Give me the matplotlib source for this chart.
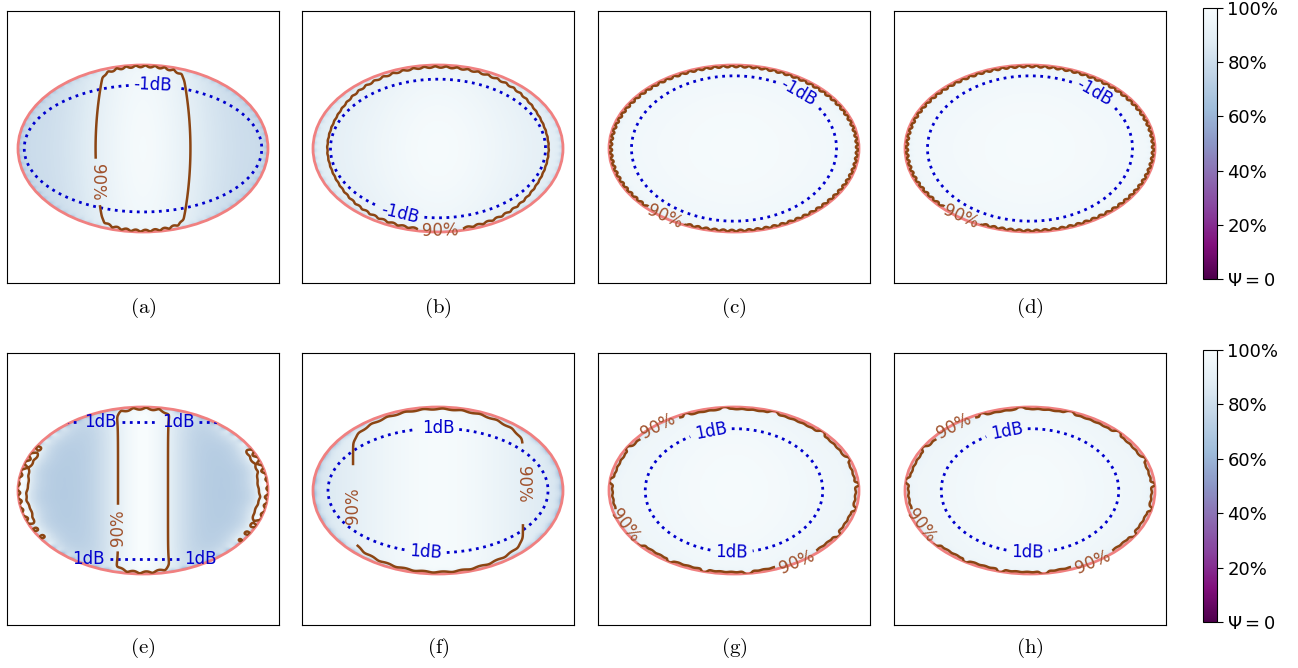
import numpy as np
import matplotlib.pyplot as plt
from matplotlib.patches import Ellipse
from matplotlib import cm, colors

panel_tags = ['(a)', '(b)', '(c)', '(d)', '(e)', '(f)', '(g)', '(h)']

# coverage field Psi over the elliptical footprint (u along major axis, w along minor)
psi_peak = [0.985, 0.99, 0.99, 0.99, 1.00, 0.99, 0.99, 0.99]
psi_depth = [0.20, 0.12, 0.03, 0.03, 0.30, 0.20, 0.05, 0.05]
psi_width = [0.51, 0.756, 0.80, 0.80, 0.314, 0.879, 0.80, 0.80]
psi_tilt = [0.025, 0.05, 0.03, 0.03, 0.0, 0.0, 0.03, 0.03]
side_rise = [0.0, 0.0, 0.0, 0.0, 0.50, 0.0, 0.0, 0.0]

# roll-off at the rim of the footprint
edge_drop = [0.15, 0.15, 0.15, 0.15, 0.30, 0.30, 0.20, 0.20]
edge_width = [0.02, 0.02, 0.02, 0.02, 0.02, 0.02, 0.02, 0.02]
edge_ripple = [0.5, 0.4, 0.5, 0.5, 0.5, 0.3, 0.15, 0.15]
ripple_freq = [80, 70, 90, 90, 60, 40, 70, 70]
gap_depth = [0, 0, 0, 0, 0, 0, 0.88, 0.88]
gap_freq = [1, 1, 1, 1, 1, 1, 17, 17]

# gain contour (dB) semi-axes, as fractions of the footprint
db_level = [-1, -1, -1, -1, 1, 1, 1, 1]
db_ax = [0.95, 0.86, 0.82, 0.82, np.inf, 0.88, 0.71, 0.71]
db_ay = [0.76, 0.83, 0.87, 0.87, 0.82, 0.745, 0.74, 0.74]

# label anchor points (u, w)
psi_label_pos = [
    [(-0.36, -0.40)],
    [(0.02, -0.98)],
    [(-0.55, -0.82)],
    [(-0.55, -0.82)],
    [(-0.22, -0.45)],
    [(-0.68, -0.18), (0.66, 0.08)],
    [(-0.61, 0.78), (-0.89, -0.45), (0.51, -0.82)],
    [(-0.61, 0.78), (-0.89, -0.45), (0.51, -0.82)],
]
db_label_pos = [
    [(0.08, 0.80)],
    [(-0.30, -0.78)],
    [(0.52, 0.70)],
    [(0.52, 0.70)],
    [(-0.34, 0.82), (0.28, 0.82), (-0.44, -0.82), (0.46, -0.82)],
    [(0.0, 0.74), (-0.1, -0.75)],
    [(-0.19, 0.74), (-0.02, -0.74)],
    [(-0.19, 0.74), (-0.02, -0.74)],
]
psi_label_rot = {0: [-90], 4: [90], 5: [90, -90]}
psi_label_gap = [5, 5, 5, 5, 5, 22, 5, 5]

# footprint geometry in axes data units
semi_b = 0.668
yc = -0.012
lim = 1.088

cmap = plt.get_cmap('BuPu_r')
norm = colors.Normalize(0, 1)

fig = plt.figure(figsize=(12.98, 6.68), dpi=100)
W, H = 1298, 668

lefts = [7, 302, 598, 894]
tops = [11, 353]

N = 600
xs = np.linspace(-lim, lim, N)
X, Y = np.meshgrid(xs, xs)
U = X
Wn = (Y - yc) / semi_b
R = np.sqrt(U**2 + Wn**2)
TH = np.arctan2(Wn, U)

for k in range(8):
    row, col = divmod(k, 4)
    ax = fig.add_axes([lefts[col] / W, (H - tops[row] - 272) / H, 272 / W, 272 / H])
    ax.set_xlim(-lim, lim)
    ax.set_ylim(-lim, lim)
    ax.set_xticks([])
    ax.set_yticks([])

    wiggle = 1 + edge_ripple[k] * np.sin(ripple_freq[k] * TH)
    gaps = 1 - gap_depth[k] * 0.5 * (1 + np.tanh(8 * (np.sin(gap_freq[k] * TH + 1.3 * np.sin(3 * TH)) - 0.85)))
    side = side_rise[k] * U**2 * np.exp(np.clip((R - 1) / 0.1, -50, 0)) * (1 + 0.08 * np.sin(17 * TH))
    psi = (psi_peak[k]
           - psi_depth[k] * (1 - np.exp(-(U / psi_width[k])**2))
           - psi_tilt[k] * Wn**2
           + side)
    rim = np.exp(np.clip((R - 1) / edge_width[k], -50, 60))
    psi = psi - edge_drop[k] * rim * wiggle * gaps

    shade = np.ma.masked_where(R > 1, np.clip(psi, 0, 1))
    ax.imshow(shade, extent=(-lim, lim, -lim, lim), origin='lower', cmap=cmap,
              norm=norm, interpolation='nearest', zorder=1)

    outline = Ellipse((0, yc), 2, 2 * semi_b, fill=False, ec='#f08080', lw=2, zorder=2)
    ax.add_patch(outline)
    clip = Ellipse((0, yc), 2, 2 * semi_b, transform=ax.transData)

    gain = db_level[k] * ((U / db_ax[k])**2 + (Wn / db_ay[k])**2)
    cs_db = ax.contour(X, Y, gain, levels=[db_level[k]], colors='mediumblue',
                       linestyles=':', linewidths=2, zorder=3)
    cs_db.set_clip_path(clip)
    cs_psi = ax.contour(X, Y, psi, levels=[0.9], colors='#8b4513',
                        linewidths=1.8, zorder=4)
    cs_psi.set_clip_path(clip)

    fmt_db = {db_level[k]: '%ddB' % db_level[k]}
    ax.clabel(cs_db, fmt=fmt_db, fontsize=12, colors='mediumblue', inline=True,
              manual=[(u, yc + w * semi_b) for u, w in db_label_pos[k]])
    texts = ax.clabel(cs_psi, fmt={0.9: '90%'}, fontsize=12, colors='#a0522d',
                      inline=True, inline_spacing=psi_label_gap[k],
                      manual=[(u, yc + w * semi_b) for u, w in psi_label_pos[k]])
    if k in psi_label_rot:
        for t, rot in zip(texts, psi_label_rot[k]):
            t.set_rotation(rot)

    ty = 308 if row == 0 else 648
    fig.text((lefts[col] + 136) / W, (H - ty) / H, r'$\mathrm{%s}$' % panel_tags[k],
             ha='center', va='center', fontsize=15, math_fontfamily='cm')

# shared colour scales, one per row
cb_ticks = [0, 0.2, 0.4, 0.6, 0.8, 1.0]
cb_labels = [r'$\Psi=0$', '20%', '40%', '60%', '80%', '100%']
for top, height in [(8, 271), (350, 272)]:
    cax = fig.add_axes([1203 / W, (H - top - height) / H, 14 / W, height / H])
    cb = fig.colorbar(cm.ScalarMappable(norm=norm, cmap=cmap), cax=cax, ticks=cb_ticks)
    cb.ax.set_yticklabels(cb_labels)
    cb.ax.tick_params(labelsize=13, length=4)

fig.savefig('out.png', dpi=100)
